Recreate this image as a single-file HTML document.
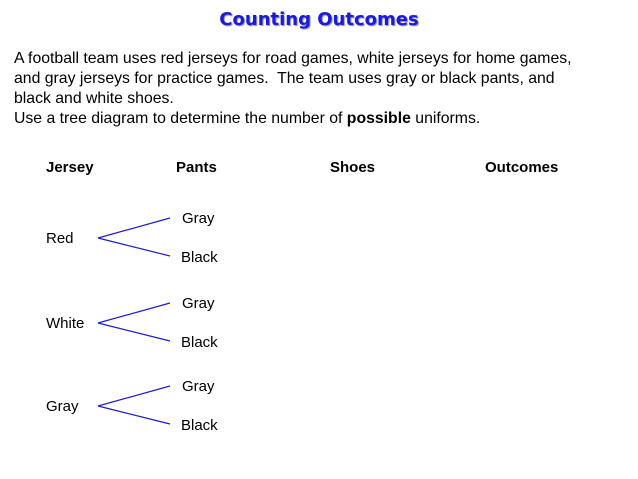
<!DOCTYPE html>
<html><head><meta charset="utf-8"><style>
body{margin:0;width:638px;height:479px;background:#fff;position:relative;overflow:hidden;font-family:"Liberation Sans",sans-serif;color:#000}
.t{position:absolute;white-space:nowrap}
#title{left:0;width:638px;text-align:center;top:9px;font-size:18px;font-weight:bold;color:#1a1adb;text-shadow:1px 1px 1px #8888aa;font-family:"DejaVu Sans",sans-serif}
#para{left:14px;top:49px;font-size:15.8px;line-height:20px}
.h{top:159px;font-size:15px;font-weight:bold}
.lbl{font-size:15px}
</style></head><body>
<div class="t" id="title">Counting Outcomes</div>
<div class="t" id="para">A football team uses red jerseys for road games, white jerseys for home games,<br>and gray jerseys for practice games.&nbsp; The team uses gray or black pants, and<br>black and white shoes.<br>Use a tree diagram to determine the number of <b>possible</b> uniforms.</div>
<div class="t h" style="left:46px">Jersey</div>
<div class="t h" style="left:176px">Pants</div>
<div class="t h" style="left:330px">Shoes</div>
<div class="t h" style="left:485px">Outcomes</div>
<svg id="tree" width="638" height="479" style="position:absolute;left:0;top:0"></svg>
<script>
const jerseys=["Red","White","Gray"];
const pants=["Gray","Black"];
const jerseyY=[238,323,406];
const svg=document.getElementById('tree');
const NS="http://www.w3.org/2000/svg";
jerseys.forEach((j,i)=>{
  const y=jerseyY[i];
  const d=document.createElement('div');
  d.className='t lbl';d.style.left='46px';d.style.top=(y-8)+'px';d.textContent=j;
  
  
  document.body.appendChild(d);
  pants.forEach((p,k)=>{
    const py=y+(k===0?-20:18);
    const l=document.createElementNS(NS,'line');
    l.setAttribute('x1',98);l.setAttribute('y1',y);l.setAttribute('x2',170);l.setAttribute('y2',py);
    l.setAttribute('stroke','#1a1adb');l.setAttribute('stroke-width','1.2');
    
    
    svg.appendChild(l);
    const e=document.createElement('div');
    e.className='t lbl';e.style.left=(k===0?182:181)+'px';e.style.top=(py-8+(k===0?0:1))+'px';e.textContent=p;
    
    
    document.body.appendChild(e);
  });
});
</script>
</body></html>
